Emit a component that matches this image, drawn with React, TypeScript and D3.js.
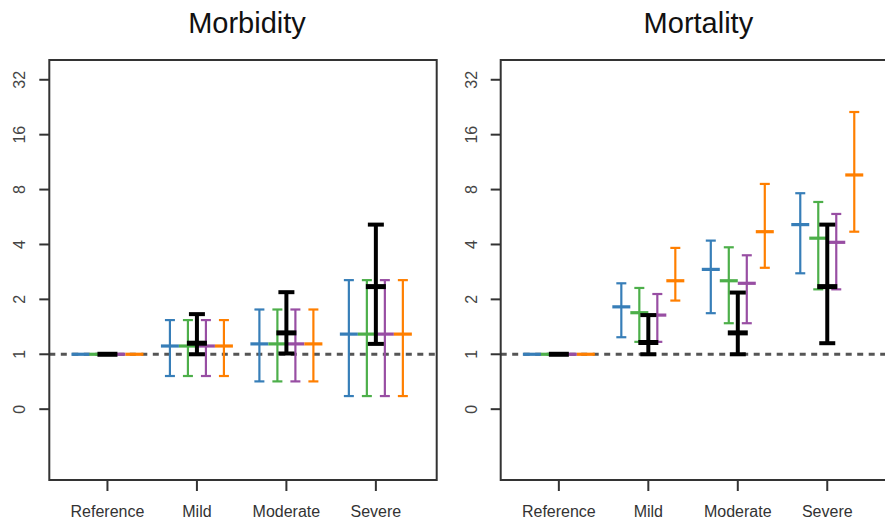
import React from "react";
import * as d3 from "d3";

const categories = ["Reference", "Mild", "Moderate", "Severe"];
const yTickValues = [0.5, 1, 2, 4, 8, 16, 32];
const yTickLabels = ["0", "1", "2", "4", "8", "16", "32"];
const seriesNames = ["A", "B", "C", "D", "E"];
const seriesColors = ["#377eb8", "#4daf4a", "#000000", "#984ea3", "#ff7f00"];
const seriesOffsets = [-27, -9, 0, 9, 27];

// [estimate, lower, upper] for each category, per series
const morbidityBlue = [[1, 1, 1], [1.11, 0.76, 1.54], [1.14, 0.71, 1.76], [1.29, 0.59, 2.55]];
const morbidityGreen = [[1, 1, 1], [1.11, 0.76, 1.54], [1.14, 0.71, 1.76], [1.29, 0.59, 2.55]];
const morbidityBlack = [[1, 1, 1], [1.15, 1.0, 1.66], [1.31, 1.01, 2.19], [2.35, 1.14, 5.14]];
const morbidityPurple = [[1, 1, 1], [1.11, 0.76, 1.54], [1.14, 0.71, 1.76], [1.29, 0.59, 2.55]];
const morbidityOrange = [[1, 1, 1], [1.11, 0.76, 1.54], [1.14, 0.71, 1.76], [1.29, 0.59, 2.55]];

const mortalityBlue = [[1, 1, 1], [1.82, 1.24, 2.45], [2.92, 1.68, 4.2], [5.14, 2.78, 7.64]];
const mortalityGreen = [[1, 1, 1], [1.69, 1.17, 2.31], [2.53, 1.48, 3.86], [4.33, 2.27, 6.84]];
const mortalityBlack = [[1, 1, 1], [1.16, 1.0, 1.64], [1.31, 1.0, 2.18], [2.35, 1.15, 5.14]];
const mortalityPurple = [[1, 1, 1], [1.64, 1.17, 2.14], [2.45, 1.48, 3.49], [4.11, 2.27, 5.88]];
const mortalityOrange = [[1, 1, 1], [2.53, 1.97, 3.83], [4.7, 2.98, 8.59], [9.62, 4.7, 21.3]];

const panels = [
  { title: "Morbidity", x0: 49.3, series: [morbidityBlue, morbidityGreen, morbidityBlack, morbidityPurple, morbidityOrange] },
  { title: "Mortality", x0: 500.7, series: [mortalityBlue, mortalityGreen, mortalityBlack, mortalityPurple, mortalityOrange] },
];

const W = 885;
const H = 520;
const PW = 387.4;
const Y0 = 60;
const Y1 = 480;

const yScale = d3.scaleLog().base(2).domain([Math.pow(2, -2.29), Math.pow(2, 5.36)]).range([Y1, Y0]);

function Panel({ p }: { p: any }) {
  const x = d3.scaleLinear().domain([0.35, 4.68]).range([p.x0, p.x0 + PW]);
  const order = [0, 1, 3, 4, 2];
  return (
    <g>
      <text x={p.x0 + PW / 2 + 4} y={33} textAnchor="middle" fontFamily="Liberation Sans, Arial, sans-serif" fontSize={29} fill="#111">
        {p.title}
      </text>
      <line x1={p.x0} x2={p.x0 + PW} y1={yScale(1)} y2={yScale(1)} stroke="#555" strokeWidth={3} strokeDasharray="6,5.5" />
      {order.map((si) => {
        const isBlack = si === 2;
        const col = seriesColors[si];
        const lw = isBlack ? 4 : 2.2;
        const capW = isBlack ? 8 : 5;
        const ptW = isBlack ? 10 : 9;
        const ptLw = isBlack ? 5 : 3.2;
        return (
          <g key={seriesNames[si]}>
            {p.series[si].map((d: number[], ci: number) => {
              const cx = x(ci + 1) + seriesOffsets[si];
              const [est, lo, hi] = d;
              return (
                <g key={ci}>
                  {hi > lo && (
                    <g>
                      <line x1={cx} x2={cx} y1={yScale(lo)} y2={yScale(hi)} stroke={col} strokeWidth={lw} />
                      <line x1={cx - capW} x2={cx + capW} y1={yScale(lo)} y2={yScale(lo)} stroke={col} strokeWidth={lw} />
                      <line x1={cx - capW} x2={cx + capW} y1={yScale(hi)} y2={yScale(hi)} stroke={col} strokeWidth={lw} />
                    </g>
                  )}
                  <line x1={cx - ptW} x2={cx + ptW} y1={yScale(est)} y2={yScale(est)} stroke={col} strokeWidth={ptLw} />
                </g>
              );
            })}
          </g>
        );
      })}
      <rect x={p.x0} y={Y0} width={PW} height={Y1 - Y0} fill="none" stroke="#333" strokeWidth={2} />
      {yTickValues.map((v, i) => (
        <g key={v}>
          <line x1={p.x0 - 10} x2={p.x0} y1={yScale(v)} y2={yScale(v)} stroke="#333" strokeWidth={2} />
          <text
            transform={`translate(${p.x0 - 24},${yScale(v)}) rotate(-90)`}
            textAnchor="middle"
            fontFamily="Liberation Sans, Arial, sans-serif"
            fontSize={16}
            fill="#444"
          >
            {yTickLabels[i]}
          </text>
        </g>
      ))}
      {categories.map((c, i) => (
        <g key={c}>
          <line x1={x(i + 1)} x2={x(i + 1)} y1={Y1} y2={Y1 + 11} stroke="#333" strokeWidth={2} />
          <text x={x(i + 1)} y={517} textAnchor="middle" fontFamily="Liberation Sans, Arial, sans-serif" fontSize={16} fill="#333">
            {c}
          </text>
        </g>
      ))}
    </g>
  );
}

export default function App() {
  return (
    <svg width={W} height={H} style={{ position: "absolute", left: 0, top: 0, background: "#fff" }}>
      <rect width={W} height={H} fill="#fff" />
      {panels.map((p) => (
        <Panel key={p.title} p={p} />
      ))}
    </svg>
  );
}
